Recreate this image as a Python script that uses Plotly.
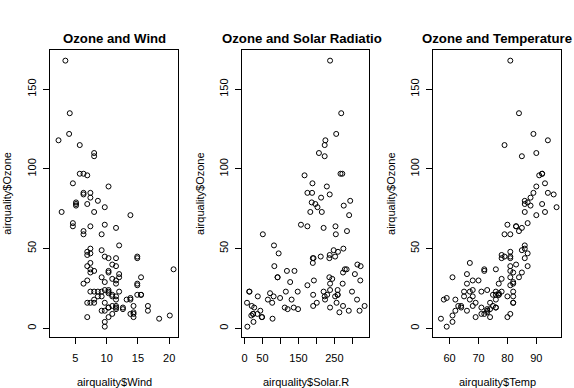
import plotly.graph_objects as go

# R "airquality" dataset (None = NA)
ozone = [41, 36, 12, 18, None, 28, 23, 19, 8, None, 7, 16, 11, 14, 18, 14, 34, 6, 30, 11,
         1, 11, 4, 32, None, None, None, 23, 45, 115, 37, None, None, None, None, None, None, 29, None, 71,
         39, None, None, 23, None, None, 21, 37, 20, 12, 13, None, None, None, None, None, None, None, None, None,
         None, 135, 49, 32, None, 64, 40, 77, 97, 97, 85, None, 10, 27, None, 7, 48, 35, 61, 79,
         63, 16, None, None, 80, 108, 20, 52, 82, 50, 64, 59, 39, 9, 16, 78, 35, 66, 122, 89,
         110, None, None, 44, 28, 65, None, 22, 59, 23, 31, 44, 21, 9, None, 45, 168, 73, None, 76,
         118, 84, 85, 96, 78, 73, 91, 47, 32, 20, 23, 21, 24, 44, 21, 28, 9, 13, 46, 18,
         13, 24, 16, 13, 23, 36, 7, 14, 30, None, 14, 18, 20]
solar_r = [190, 118, 149, 313, None, None, 299, 99, 19, 194, None, 256, 290, 274, 65, 334, 307, 78, 322, 44,
           8, 320, 25, 92, 66, 266, None, 13, 252, 223, 279, 286, 287, 242, 186, 220, 264, 127, 273, 291,
           323, 259, 250, 148, 332, 322, 191, 284, 37, 120, 137, 150, 59, 91, 250, 135, 127, 47, 98, 31,
           138, 269, 248, 236, 101, 175, 314, 276, 267, 272, 175, 139, 264, 175, 291, 48, 260, 274, 285, 187,
           220, 7, 258, 295, 294, 223, 81, 82, 213, 275, 253, 254, 83, 24, 77, None, None, None, 255, 229,
           207, 222, 137, 192, 273, 157, 64, 71, 51, 115, 244, 190, 259, 36, 255, 212, 238, 215, 153, 203,
           225, 237, 188, 167, 197, 183, 189, 95, 92, 252, 220, 230, 259, 236, 259, 238, 24, 112, 237, 224,
           27, 238, 201, 238, 14, 139, 49, 20, 193, 145, 191, 131, 223]
wind = [7.4, 8.0, 12.6, 11.5, 14.3, 14.9, 8.6, 13.8, 20.1, 8.6, 6.9, 9.7, 9.2, 10.9, 13.2, 11.5, 12.0, 18.4, 11.5, 9.7,
        9.7, 16.6, 9.7, 12.0, 16.6, 14.9, 8.0, 12.0, 14.9, 5.7, 7.4, 8.6, 9.7, 16.1, 9.2, 8.6, 14.3, 9.7, 6.9, 13.8,
        11.5, 10.9, 9.2, 8.0, 13.8, 11.5, 14.9, 20.7, 9.2, 11.5, 10.3, 6.3, 1.7, 4.6, 6.3, 8.0, 8.0, 10.3, 11.5, 14.9,
        8.0, 4.1, 9.2, 9.2, 10.9, 4.6, 10.9, 5.1, 6.3, 5.7, 7.4, 8.6, 14.3, 14.9, 14.9, 14.3, 6.9, 10.3, 6.3, 5.1,
        11.5, 6.9, 9.7, 11.5, 8.6, 8.0, 8.6, 12.0, 7.4, 7.4, 7.4, 9.2, 6.9, 13.8, 7.4, 6.9, 7.4, 4.6, 4.0, 10.3,
        8.0, 8.6, 11.5, 11.5, 11.5, 9.7, 11.5, 10.3, 6.3, 7.4, 10.9, 10.3, 15.5, 14.3, 12.6, 9.7, 3.4, 8.0, 5.7, 9.7,
        2.3, 6.3, 6.3, 6.9, 5.1, 2.8, 4.6, 7.4, 15.5, 10.9, 10.3, 10.9, 9.7, 14.9, 15.5, 6.3, 10.9, 11.5, 6.9, 13.8,
        10.3, 10.3, 8.0, 12.6, 9.2, 10.3, 10.3, 16.6, 6.9, 13.2, 14.3, 8.0, 11.5]
temp = [67, 72, 74, 62, 56, 66, 65, 59, 61, 69, 74, 69, 66, 68, 58, 64, 66, 57, 68, 62,
        59, 73, 61, 61, 57, 58, 57, 67, 81, 79, 76, 78, 74, 67, 84, 85, 79, 82, 87, 90,
        87, 93, 92, 82, 80, 79, 77, 72, 65, 73, 76, 77, 76, 76, 76, 75, 78, 73, 80, 77,
        83, 84, 85, 81, 84, 83, 83, 88, 92, 92, 89, 82, 73, 81, 91, 80, 81, 82, 84, 87,
        85, 74, 81, 82, 86, 85, 82, 86, 88, 86, 83, 81, 81, 81, 82, 86, 85, 87, 89, 90,
        90, 92, 86, 86, 82, 80, 79, 77, 79, 76, 78, 78, 77, 72, 75, 79, 81, 86, 88, 97,
        94, 96, 94, 91, 92, 93, 93, 87, 84, 80, 78, 75, 73, 81, 76, 77, 71, 71, 78, 67,
        76, 68, 82, 64, 71, 81, 69, 63, 70, 77, 75, 76, 68]

titles = ["Ozone and Wind", "Ozone and Solar Radiatio", "Ozone and Temperature"]
xlabels = ["airquality$Wind", "airquality$Solar.R", "airquality$Temp"]
ylabel = "airquality$Ozone"
xs = [wind, solar_r, temp]
xtickvals = [[5, 10, 15, 20], [0, 50, 100, 150, 200, 250, 300], [60, 70, 80, 90]]
xticktext = [["5", "10", "15", "20"], ["0", "50", "", "150", "", "250", ""], ["60", "70", "80", "90"]]
ytickvals = [0, 50, 100, 150]


def r_range(vals):
    v = [a for a in vals if a is not None]
    lo, hi = min(v), max(v)
    d = (hi - lo) * 0.04
    return [lo - d, hi + d]


W, H = 574, 388
boxes = [(50, 178.3), (242.3, 369.3), (433.3, 561.3)]
top, bottom = 50, 337.3
FONT = "Liberation Sans, Arial, sans-serif"

fig = go.Figure()
annotations = []
for i in range(3):
    ax = "" if i == 0 else str(i + 1)
    fig.add_trace(go.Scatter(
        x=xs[i], y=ozone, mode="markers", xaxis="x" + ax, yaxis="y" + ax,
        marker=dict(symbol="circle-open", size=5, color="black", line=dict(width=1, color="black")),
        showlegend=False, hoverinfo="skip"))
    x0, x1 = boxes[i]
    common = dict(showline=True, linecolor="black", linewidth=1, mirror=True, ticks="outside",
                  ticklen=6, tickwidth=1, tickcolor="black", showgrid=False, zeroline=False,
                  tickfont=dict(family=FONT, size=11, color="black"))
    fig.update_layout(**{
        "xaxis" + ax: dict(domain=[x0 / W, x1 / W], range=r_range(xs[i]), anchor="y" + ax,
                           tickvals=xtickvals[i], ticktext=xticktext[i], ticklabelstandoff=4, **common),
        "yaxis" + ax: dict(domain=[1 - bottom / H, 1 - top / H], range=r_range(ozone), anchor="x" + ax,
                           tickvals=ytickvals, tickangle=-90, ticklabelstandoff=3, **common),
    })
    cx = (x0 + x1) / 2
    if i == 1:
        annotations.append(dict(x=220 / W, y=1 - 39 / H, xref="paper", yref="paper", text=titles[i],
                                showarrow=False, xanchor="left", yanchor="middle",
                                font=dict(family=FONT, size=13.2, color="black", weight="bold")))
    else:
        annotations.append(dict(x=cx / W, y=1 - 39 / H, xref="paper", yref="paper", text=titles[i],
                                showarrow=False, xanchor="center", yanchor="middle",
                                font=dict(family=FONT, size=13.2, color="black", weight="bold")))
    annotations.append(dict(x=cx / W, y=1 - 381.7 / H, xref="paper", yref="paper", text=xlabels[i],
                            showarrow=False, xanchor="center", yanchor="middle",
                            font=dict(family=FONT, size=11, color="black")))
    annotations.append(dict(x=(x0 - 43) / W, y=1 - (top + bottom) / 2 / H, xref="paper", yref="paper",
                            text=ylabel, textangle=-90, showarrow=False, xanchor="center", yanchor="middle",
                            font=dict(family=FONT, size=11, color="black")))

fig.update_layout(width=W, height=H, margin=dict(l=0, r=0, t=0, b=0),
                  paper_bgcolor="white", plot_bgcolor="white", annotations=annotations)
fig.write_html("out.html", config={"displayModeBar": False},
               post_script="document.body.style.margin='0';document.body.style.overflow='hidden';")
